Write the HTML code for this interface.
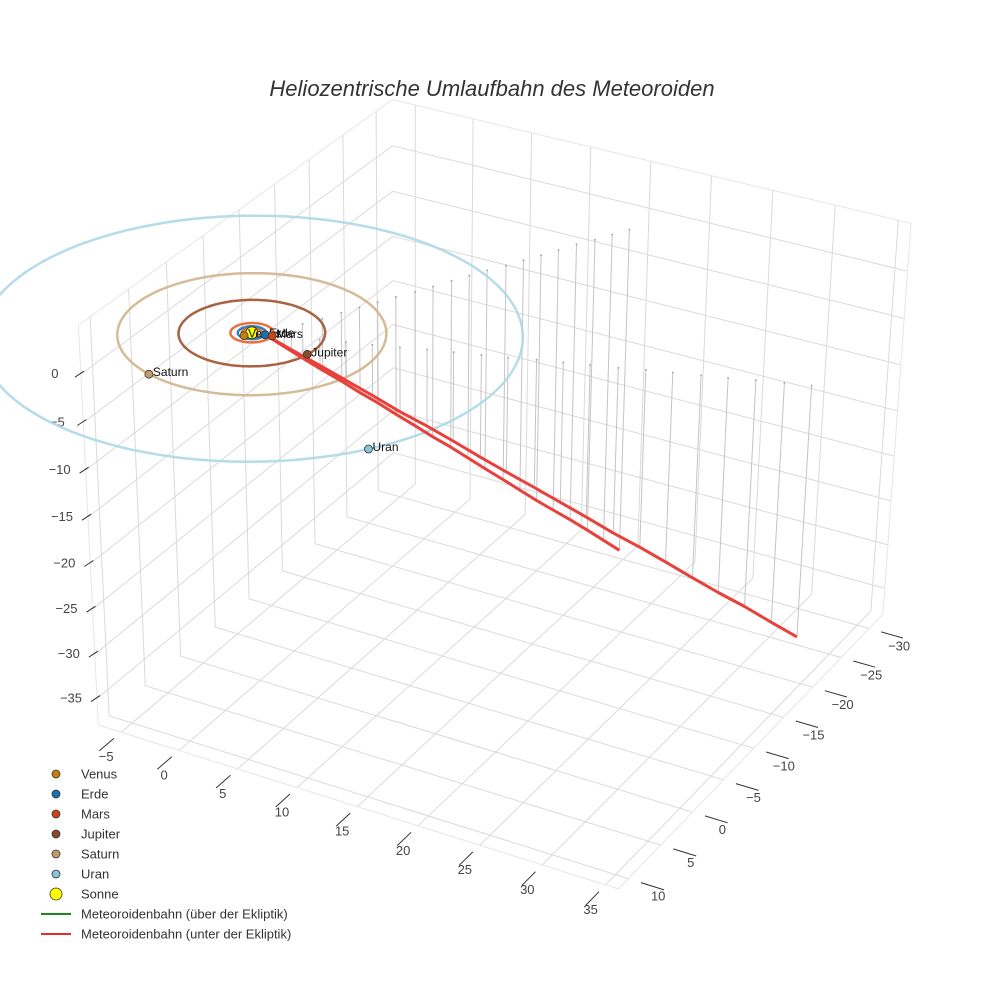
<!DOCTYPE html>
<html><head><meta charset="utf-8">
<style>
html,body{margin:0;padding:0;background:#fff;}
svg{display:block;font-family:"Liberation Sans",sans-serif;}
</style></head>
<body>
<svg id="chart" width="984" height="984" viewBox="0 0 984 984" xmlns="http://www.w3.org/2000/svg">
<rect width="984" height="984" fill="#fff"/>
<text x="492" y="96" text-anchor="middle" font-size="22" font-style="italic" fill="#333">Heliozentrische Umlaufbahn des Meteoroiden</text>
<g id="grid"></g>
<g id="ticks"></g>
<g id="drops"></g>
<g id="orbits"></g>
<g id="traj"></g>
<g id="planets"></g>
<g id="legend"></g>
</svg>
<script>
const xTicks=[-5,0,5,10,15,20,25,30,35];
const yTicks=[-30,-25,-20,-15,-10,-5,0,5,10];
const zTicks=[-35,-30,-25,-20,-15,-10,-5,0];
const planetNames=["Venus","Erde","Mars","Jupiter","Saturn","Uran"];
const planetX=[-0.23,0.98,1.5,5.1,-2.9,15.8];
const planetY=[0.68,-0.2,-0.3,0.9,9.1,10.9];
const orbitRadius=[0.72,1.0,1.52,5.2,9.54,19.2];
const sunPos=[0,0,0];
const trajAx=[1.0,1.7,2.4,3.2,3.9,4.6,5.3,6.0,6.8,7.5,8.2,8.9,9.6,10.4,11.1,11.8,12.5,13.2,14.0,14.7,15.4];
const trajAy=[-0.2,-1.6,-3.0,-4.4,-5.9,-7.3,-8.7,-10.1,-11.5,-12.9,-14.4,-15.8,-17.2,-18.6,-20.0,-21.4,-22.8,-24.3,-25.7,-27.1,-28.5];
const trajAz=[0,-1.8,-3.6,-5.4,-7.2,-9.0,-10.7,-12.5,-14.3,-16.1,-17.9,-19.7,-21.5,-23.3,-25.1,-26.9,-28.6,-30.4,-32.2,-34.0,-35.8];
const trajBx=[1.0,2.8,4.7,6.5,8.3,10.2,12.0,13.8,15.7,17.5,19.4,21.2,23.0,24.9,26.7,28.5,30.4,32.2,34.0,35.9,37.7];
const trajBy=[-0.2,-0.8,-1.5,-2.1,-2.7,-3.3,-4.0,-4.6,-5.2,-5.8,-6.5,-7.1,-7.7,-8.3,-9.0,-9.6,-10.2,-10.8,-11.5,-12.1,-12.7];
const trajBz=[0,-1.3,-2.7,-4.0,-5.3,-6.7,-8.0,-9.3,-10.7,-12.0,-13.4,-14.7,-16.0,-17.4,-18.7,-20.0,-21.4,-22.7,-24.0,-25.4,-26.7];

const XR=[-7,36],YR=[-32.5,11.5],ZR=[-38,5];
const corners=[[0,0,0,393,482],[0,1,0,100,725],[1,0,0,885,607],[1,1,0,615,892],[0,0,1,390,98],[0,1,1,80,322],[1,0,1,912,228]];
const H=(function(){
  const A=[],b=[];
  corners.forEach(c=>{const [u,v,w,X,Y]=c;
    A.push([u,v,w,1,0,0,0,0,-X*u,-X*v,-X*w]);b.push(X);
    A.push([0,0,0,0,u,v,w,1,-Y*u,-Y*v,-Y*w]);b.push(Y);});
  const n=11,M=[];
  for(let i=0;i<n;i++){M.push([]);for(let j=0;j<=n;j++){let s=0;for(let k=0;k<A.length;k++)s+=A[k][i]*(j<n?A[k][j]:b[k]);M[i].push(s);}}
  for(let i=0;i<n;i++){let p=i;for(let r=i+1;r<n;r++)if(Math.abs(M[r][i])>Math.abs(M[p][i]))p=r;[M[i],M[p]]=[M[p],M[i]];
    for(let r=0;r<n;r++){if(r===i)continue;const f=M[r][i]/M[i][i];for(let j=i;j<=n;j++)M[r][j]-=f*M[i][j];}}
  return M.map((r,i)=>r[n]/r[i]);
})();
function proj(x,y,z){
  const u=(x-XR[0])/(XR[1]-XR[0]),v=(y-YR[0])/(YR[1]-YR[0]),w=(z-ZR[0])/(ZR[1]-ZR[0]);
  const d=H[8]*u+H[9]*v+H[10]*w+1;
  return [(H[0]*u+H[1]*v+H[2]*w+H[3])/d,(H[4]*u+H[5]*v+H[6]*w+H[7])/d];
}
const NS="http://www.w3.org/2000/svg";
function mk(tag,attrs,parent){const e=document.createElementNS(NS,tag);for(const k in attrs)e.setAttribute(k,attrs[k]);parent.appendChild(e);return e;}
function line(p,q,stroke,w,parent,name){const e=mk('line',{x1:p[0].toFixed(1),y1:p[1].toFixed(1),x2:q[0].toFixed(1),y2:q[1].toFixed(1),stroke:stroke,'stroke-width':w},parent);


return e;}
const G=document.getElementById('grid'),T=document.getElementById('ticks');
const gc="#dadada";
xTicks.forEach(x=>line(proj(x,YR[0],ZR[0]),proj(x,YR[1],ZR[0]),gc,1,G,'floor-gridline-x'));
yTicks.forEach(y=>line(proj(XR[0],y,ZR[0]),proj(XR[1],y,ZR[0]),gc,1,G,'floor-gridline-y'));
yTicks.forEach(y=>line(proj(XR[0],y,ZR[0]),proj(XR[0],y,ZR[1]),gc,1,G,'left-wall-gridline-y'));
zTicks.forEach(z=>line(proj(XR[0],YR[0],z),proj(XR[0],YR[1],z),gc,1,G,'left-wall-gridline-z'));
xTicks.forEach(x=>line(proj(x,YR[0],ZR[0]),proj(x,YR[0],ZR[1]),gc,1,G,'back-wall-gridline-x'));
zTicks.forEach(z=>line(proj(XR[0],YR[0],z),proj(XR[1],YR[0],z),gc,1,G,'back-wall-gridline-z'));
[[[XR[0],YR[1],ZR[1]],[XR[0],YR[0],ZR[1]]],[[XR[0],YR[0],ZR[1]],[XR[1],YR[0],ZR[1]]],
 [[XR[0],YR[1],ZR[0]],[XR[0],YR[1],ZR[1]]],[[XR[1],YR[0],ZR[0]],[XR[1],YR[0],ZR[1]]],
 [[XR[0],YR[1],ZR[0]],[XR[1],YR[1],ZR[0]]],[[XR[1],YR[0],ZR[0]],[XR[1],YR[1],ZR[0]]]].forEach(e=>line(proj(...e[0]),proj(...e[1]),"#e6e6e6",1,G,'box-edge'));
function lbl(p,txt,anchor,name){const e=mk('text',{x:p[0].toFixed(1),y:p[1].toFixed(1),'font-size':13,fill:'#444','text-anchor':anchor},T);e.textContent=txt;

}
const fmt=v=>v<0?'\u2212'+Math.abs(v):String(v);
xTicks.forEach(x=>{const p=proj(x,YR[1],ZR[0]);line(proj(x,YR[1]+1,ZR[0]),proj(x,YR[1]+3,ZR[0]),'#333',1,T,'x-tick');lbl([p[0]-15,p[1]+29],fmt(x),'middle','x-tick-label');});
yTicks.forEach(y=>{const p=proj(XR[1],y,ZR[0]);line(proj(XR[1]+1,y,ZR[0]),proj(XR[1]+2.8,y,ZR[0]),'#333',1,T,'y-tick');lbl([p[0]+30,p[1]+22],fmt(y),'middle','y-tick-label');});
zTicks.forEach(z=>{const p=proj(XR[0],YR[1],z);line([p[0]-6,p[1]+3],[p[0]+3,p[1]-3],'#333',1,T,'z-tick');lbl([p[0]-26,p[1]+4],fmt(z),'middle','z-tick-label');});

const D=document.getElementById('drops');
function drops(xs,ys,zs,name){for(let i=1;i<xs.length;i++){const a=proj(xs[i],ys[i],zs[i]),b=proj(xs[i],ys[i],0);line(a,b,'#c4c4c4',1,D,name);
const c=mk('circle',{cx:b[0].toFixed(1),cy:b[1].toFixed(1),r:1,fill:'#aaa'},D);

}}
drops(trajAx,trajAy,trajAz,'drop-line-a');drops(trajBx,trajBy,trajBz,'drop-line-b');

const O=document.getElementById('orbits');
const orbitColors=["#d2691e","#1f77b4","#e8602c","#a0522d","#d2b48c","#add8e6"];
orbitRadius.forEach((r,i)=>{let d='';for(let k=0;k<=120;k++){const a=k/120*2*Math.PI;const p=proj(r*Math.cos(a),r*Math.sin(a),0);d+=(k?'L':'M')+p[0].toFixed(1)+','+p[1].toFixed(1);}
const e=mk('path',{d:d,fill:'none',stroke:orbitColors[i],'stroke-width':2.5,'stroke-opacity':0.9},O);

});

const TR=document.getElementById('traj');
function traj(xs,ys,zs,name){const n=xs.length-1;const p0=proj(xs[0],ys[0],zs[0]),p1=proj(xs[n],ys[n],zs[n]);let d='M'+p0[0].toFixed(1)+','+p0[1].toFixed(1);
for(let i=1;i<=n;i++){const p=proj(xs[i],ys[i],zs[i]);d+='L'+p[0].toFixed(1)+','+p[1].toFixed(1);}
const e=mk('path',{d:d,fill:'none',stroke:'#e8413c','stroke-width':3,'stroke-linejoin':'round'},TR);

}
traj(trajAx,trajAy,trajAz,'trajectory-below-ecliptic-a');traj(trajBx,trajBy,trajBz,'trajectory-below-ecliptic-b');

const P=document.getElementById('planets');
const markerColors=["#c87d0e","#1373b3","#cc4414","#8b4a2b","#c49a6c","#89c5d8"];
const sp=proj(...sunPos);
const s=mk('circle',{cx:sp[0],cy:sp[1],r:6,fill:'#ffff00',stroke:'#333','stroke-width':1},P);


planetNames.forEach((n,i)=>{const p=proj(planetX[i],planetY[i],0);
const c=mk('circle',{cx:p[0].toFixed(1),cy:p[1].toFixed(1),r:4,fill:markerColors[i],stroke:'#333','stroke-width':0.8},P);


const t=mk('text',{x:(p[0]+4).toFixed(1),y:(p[1]+2).toFixed(1),'font-size':12,fill:'#111'},P);t.textContent=n;

});

const LG=document.getElementById('legend');
const legendNames=["Venus","Erde","Mars","Jupiter","Saturn","Uran","Sonne","Meteoroidenbahn (über der Ekliptik)","Meteoroidenbahn (unter der Ekliptik)"];
const legendColors=["#c87d0e","#1373b3","#cc4414","#8b4a2b","#c49a6c","#89c5d8","#ffff00","#1a8a1a","#e03030"];
legendNames.forEach((n,i)=>{const y=774+i*20;
const g=mk('g',{},LG);


if(i<7){mk('circle',{cx:56,cy:y,r:i==6?6:4,fill:legendColors[i],stroke:'#333','stroke-width':0.8},g);}
else{mk('line',{x1:41,y1:y,x2:71,y2:y,stroke:legendColors[i],'stroke-width':2},g);}
const t=mk('text',{x:81,y:y+4.5,'font-size':13,fill:'#333'},g);t.textContent=n;});
</script>
</body></html>
